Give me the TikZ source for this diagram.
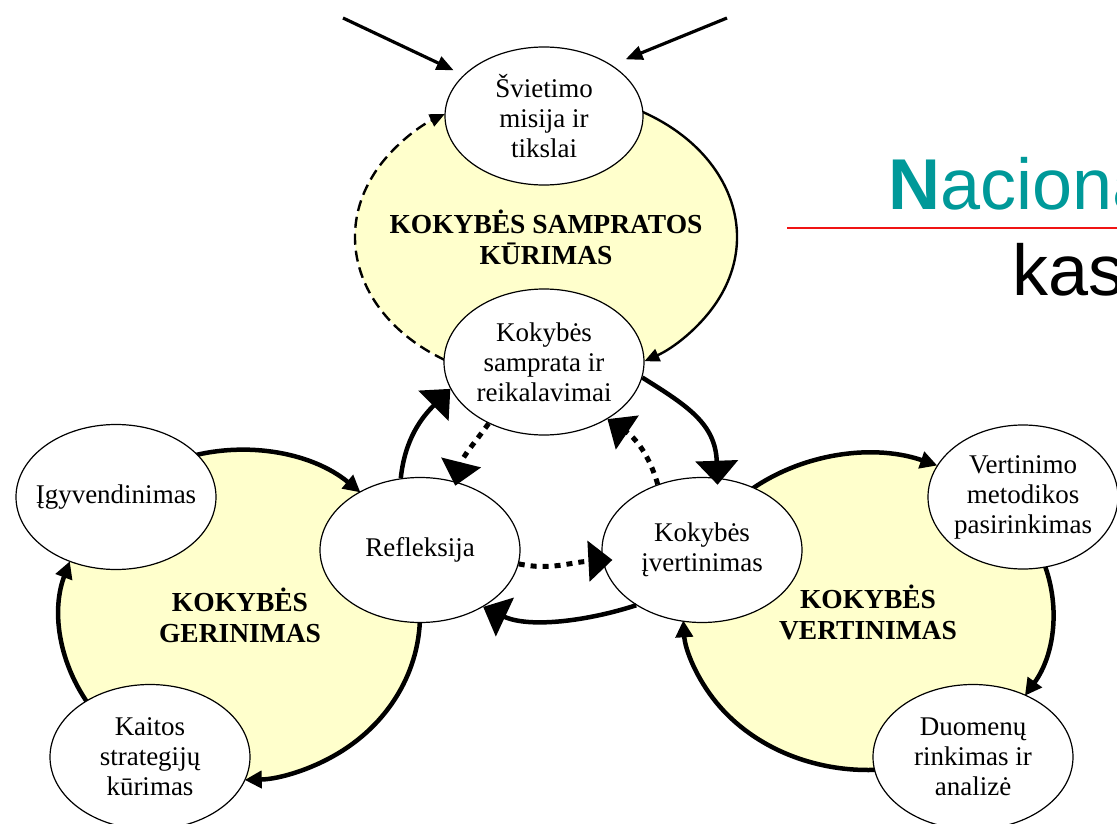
\documentclass[tikz,border=0pt]{standalone}
\usepackage{fontspec}
\setmainfont{Liberation Serif}
\newfontfamily\titlesans{Liberation Sans}
\usetikzlibrary{arrows.meta,shapes.geometric,calc}
\definecolor{bgyellow}{RGB}{255,255,204}
\definecolor{titleteal}{RGB}{0,153,153}
\definecolor{rulered}{RGB}{240,20,20}
\begin{document}
\begin{tikzpicture}[x=1pt,y=1pt,
  stage/.style={ellipse, draw, line width=1.2pt, fill=white, minimum width=200pt, minimum height=145pt,
    inner sep=0pt, inner xsep=-30pt, align=center, font=\fontsize{27}{30}\selectfont},
  phase/.style={ellipse, fill=bgyellow, draw=none, inner sep=0pt},
  phasetitle/.style={align=center, inner sep=0pt, font=\fontsize{27.5}{31}\selectfont\bfseries},
  thinarc/.style={line width=2.4pt, -{Triangle[length=15pt,width=13pt]}},
  thickarc/.style={line width=4.5pt, -{Triangle[length=17pt,width=17pt]}},
  dashedarc/.style={dash pattern=on 11pt off 6pt},
  bigarrow/.style={line width=4.5pt, -{Triangle[length=24pt,width=42pt]}},
  dotarrow/.style={line width=5pt, dash pattern=on 6pt off 6pt, -{Triangle[length=24pt,width=40pt]}},
  inarrow/.style={line width=3.2pt, -{Triangle[length=17pt,width=14pt]}},
]
\useasboundingbox (0,0) rectangle (1117,-824);
\clip (0,0) rectangle (1117,-824);

% yellow phase areas
\node[phase, minimum width=382pt, minimum height=290pt] (Sbg) at (546,-237) {};
\node[phase, minimum width=360pt, minimum height=330pt] (Gbg) at (240,-615) {};
\node[phase, minimum width=370pt, minimum height=316pt] (Vbg) at (868,-612) {};

% cycle arcs on the phase areas
\draw[thinarc] ($(Sbg.center)+(62:191 and 145)$) arc[start angle=62,end angle=-59,x radius=191,y radius=145];
\draw[thinarc,dashedarc] ($(Sbg.center)+(238:191 and 145)$) arc[start angle=238,end angle=122,x radius=191,y radius=145];

\draw[thickarc] ($(Gbg.center)+(110:180 and 165)$) arc[start angle=110,end angle=48,x radius=180,y radius=165];
\draw[thickarc] ($(Gbg.center)+(5:180 and 165)$) arc[start angle=5,end angle=-88.5,x radius=180,y radius=165];
\draw[thickarc] ($(Gbg.center)+(220:180 and 165)$) arc[start angle=220,end angle=161,x radius=180,y radius=165];

\draw[thickarc] ($(Vbg.center)+(135:185 and 158)$) arc[start angle=135,end angle=68,x radius=185,y radius=158];
\draw[thickarc] ($(Vbg.center)+(20:185 and 158)$) arc[start angle=20,end angle=-32,x radius=185,y radius=158];
\draw[thickarc] ($(Vbg.center)+(-85:185 and 158)$) arc[start angle=-85,end angle=-177,x radius=185,y radius=158];

% phase titles
\node[phasetitle] (Stitle) at (Sbg.center) {KOKYBĖS SAMPRATOS\\KŪRIMAS};
\node[phasetitle] (Gtitle) at (Gbg.center) {KOKYBĖS\\GERINIMAS};
\node[phasetitle] (Vtitle) at (Vbg.center) {KOKYBĖS\\VERTINIMAS};

% stages
\node[stage, minimum width=198pt, minimum height=138pt] (Sviet) at (544,-116) {Švietimo\\misija ir\\tikslai};
\node[stage, minimum height=146pt] (Ksam) at (544,-362) {Kokybės\\samprata ir\\reikalavimai};
\node[stage] (Refl) at (420,-550) {Refleksija};
\node[stage] (Kiv) at (702,-550) {Kokybės\\įvertinimas};
\node[stage] (Igyv) at (116,-497) {Įgyvendinimas};
\node[stage] (Kait) at (150,-757) {Kaitos\\strategijų\\kūrimas};
\node[stage, minimum width=190pt, minimum height=144pt] (Vert) at (1023,-497) {Vertinimo\\metodikos\\pasirinkimas};
\node[stage] (Duom) at (973,-757) {Duomenų\\rinkimas ir\\analizė};

% central cycle
\draw[bigarrow] (Kiv.220) to[out=198,in=335,looseness=0.85] (Refl.-42);
\draw[bigarrow] (Refl.105) to[out=84,in=225] (Ksam.196);
\draw[bigarrow, shorten >=-7pt] (Ksam.-9) to[out=-32,in=92,looseness=1.1] (Kiv.78);

\draw[dotarrow, shorten >=-4pt] (Ksam.228) to[out=234,in=76] (Refl.62);
\draw[dotarrow] (Kiv.124) to[out=106,in=-34] (Ksam.-42);
\draw[dotarrow, shorten >=-10pt] (Refl.-8) to[out=-12,in=183] (Kiv.186);

% incoming arrows
\coordinate (in1) at (343,-18);
\coordinate (in2) at (727,-18);
\draw[inarrow, shorten >=11pt] (in1) -- (Sviet.153);
\draw[inarrow, shorten >=15pt] (in2) -- (Sviet.37);

% title fragment
\node[anchor=base west, inner sep=0pt, text=titleteal, font=\fontsize{72}{72}\selectfont\titlesans] (nac) at (888,-210) {\textbf{N}aciona};
\coordinate (ruleL) at (787,-228);
\coordinate (ruleR) at (1117,-228);
\draw[rulered, line width=2pt] (ruleL) -- (ruleR);
\node[anchor=base west, inner sep=0pt, font=\fontsize{72}{72}\selectfont\titlesans] (kas) at (1012,-295) {kas};
\end{tikzpicture}
\end{document}
